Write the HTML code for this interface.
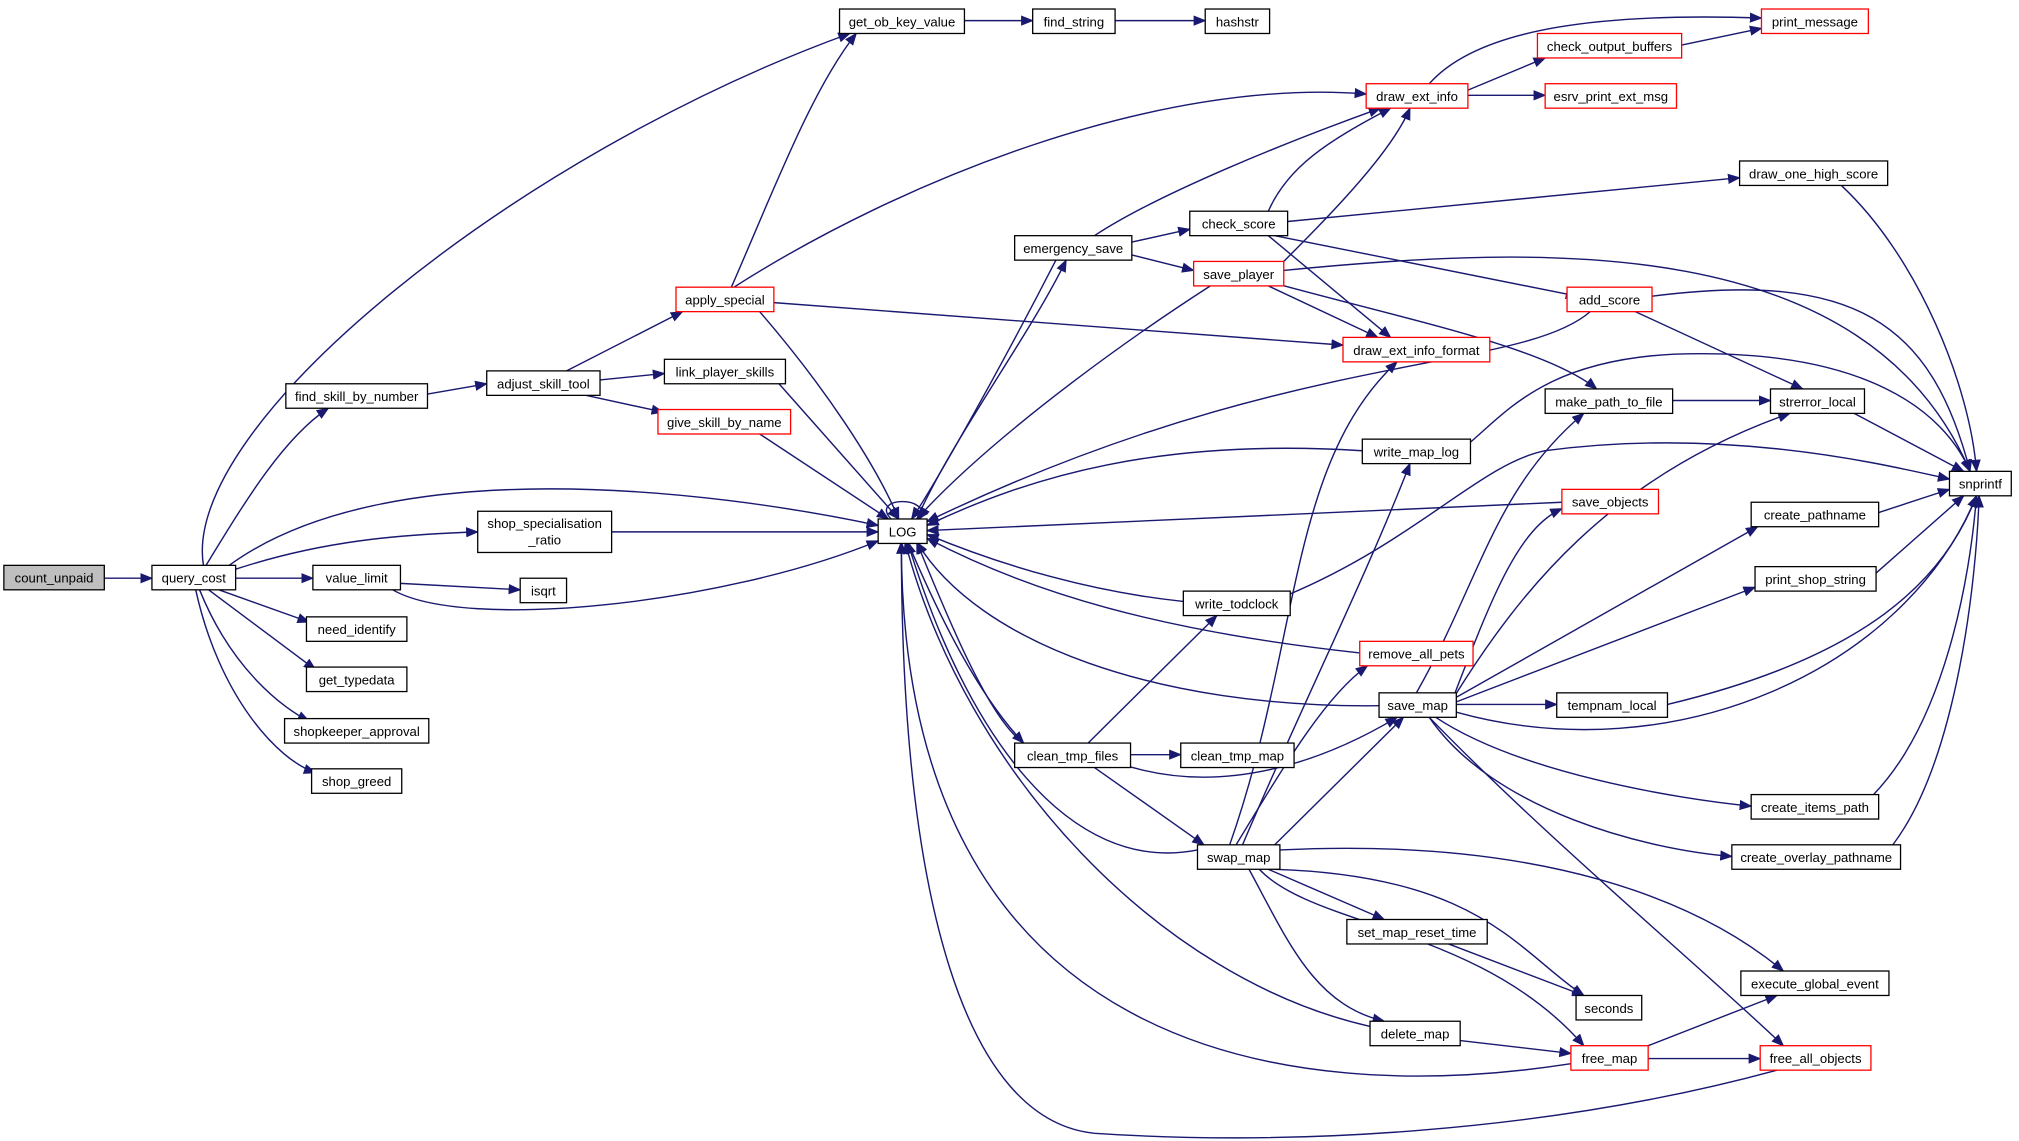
<!DOCTYPE html>
<html><head><meta charset="utf-8"><style>
html,body{margin:0;padding:0;background:#fff;}
svg{display:block;}
text{font-family:"Liberation Sans",sans-serif;font-size:10.2px;fill:#000;}
.e{fill:none;stroke:#191970;stroke-width:1.1;marker-end:url(#a);}
rect{fill:#fff;stroke:#000;stroke-width:1;}
rect.r{stroke:#ff0000;}
rect.g{fill:#bfbfbf;}
</style></head><body>
<svg width="2019" height="1141" viewBox="0 0 1568 886" preserveAspectRatio="none" xmlns="http://www.w3.org/2000/svg">
<defs><marker id="a" markerWidth="10" markerHeight="8" refX="9" refY="4" orient="auto" markerUnits="userSpaceOnUse"><path d="M0,0 L10,4 L0,8 z" fill="#191970"/></marker></defs>
<g>
<path class="e" d="M81,449 L118,449"/>
<path class="e" d="M158,439 C140,330 400,120 660,26"/>
<path class="e" d="M160,439 C190,390 220,340 255,317"/>
<path class="e" d="M178,439 C300,350 550,380 682,408"/>
<path class="e" d="M183,442 C250,420 310,415 371,413"/>
<path class="e" d="M183,449 L243,449"/>
<path class="e" d="M170,458 L240,483"/>
<path class="e" d="M162,458 L245,520"/>
<path class="e" d="M155,458 C180,520 220,550 240,560"/>
<path class="e" d="M152,458 C170,540 215,590 245,600"/>
<path class="e" d="M311,453 L404,458"/>
<path class="e" d="M305,458 C360,490 560,470 682,420"/>
<path class="e" d="M475,413 L682,413"/>
<path class="e" d="M332,306 L378,298"/>
<path class="e" d="M440,288 L530,242"/>
<path class="e" d="M466,295 L516,290"/>
<path class="e" d="M455,307 L515,320"/>
<path class="e" d="M568,223 C600,150 630,70 665,26"/>
<path class="e" d="M570,223 C700,140 900,60 1061,73"/>
<path class="e" d="M601,235 L1043,268"/>
<path class="e" d="M590,242 C640,300 680,360 698,403"/>
<path class="e" d="M605,298 L698,403"/>
<path class="e" d="M590,337 L690,403"/>
<path class="e" d="M749,16 L802,16"/>
<path class="e" d="M866,16 L936,16"/>
<path class="e" d="M1110,65 C1150,20 1250,10 1368,14"/>
<path class="e" d="M1140,70 L1200,45"/>
<path class="e" d="M1140,74 L1200,74"/>
<path class="e" d="M1306,35 L1368,22"/>
<path class="e" d="M820,202 C780,280 730,370 708,403"/>
<path class="e" d="M712,403 C740,340 800,260 828,202"/>
<path class="e" d="M850,183 C900,150 1000,110 1072,84"/>
<path class="e" d="M879,188 L924,178"/>
<path class="e" d="M879,198 L927,210"/>
<path class="e" d="M692,403 C675,385 725,385 714,403"/>
<path class="e" d="M985,164 C1000,130 1030,110 1080,84"/>
<path class="e" d="M1000,172 L1351,138"/>
<path class="e" d="M990,183 L1225,230"/>
<path class="e" d="M985,183 L1080,262"/>
<path class="e" d="M990,210 C1030,170 1080,120 1095,84"/>
<path class="e" d="M997,210 C1200,190 1450,180 1530,366"/>
<path class="e" d="M985,222 L1070,262"/>
<path class="e" d="M990,220 C1100,250 1200,270 1240,302"/>
<path class="e" d="M940,222 C850,280 760,350 712,403"/>
<path class="e" d="M1235,242 C1180,290 1000,270 720,405"/>
<path class="e" d="M1270,242 L1400,302"/>
<path class="e" d="M1283,230 C1440,210 1500,250 1530,366"/>
<path class="e" d="M1430,144 C1490,200 1530,300 1535,366"/>
<path class="e" d="M1299,311 L1375,311"/>
<path class="e" d="M1440,321 L1525,366"/>
<path class="e" d="M1100,538 C1150,450 1160,380 1230,321"/>
<path class="e" d="M1000,462 C1100,420 1150,360 1200,350 C1350,330 1480,365 1514,372"/>
<path class="e" d="M1058,350 C900,340 800,370 720,408"/>
<path class="e" d="M1140,345 C1170,320 1200,280 1300,275 C1450,270 1510,320 1530,366"/>
<path class="e" d="M1213,390 L720,412"/>
<path class="e" d="M1459,398 L1514,380"/>
<path class="e" d="M1457,445 L1525,385"/>
<path class="e" d="M919,467 C850,460 780,440 720,415"/>
<path class="e" d="M1056,507 C900,490 800,460 720,418"/>
<path class="e" d="M1071,548 C900,550 760,500 712,421"/>
<path class="e" d="M1131,547 L1209,547"/>
<path class="e" d="M1130,538 C1160,460 1180,410 1213,395"/>
<path class="e" d="M1130,540 C1180,460 1250,370 1390,321"/>
<path class="e" d="M1130,542 L1365,409"/>
<path class="e" d="M1131,545 L1363,456"/>
<path class="e" d="M1131,553 C1300,600 1480,520 1535,385"/>
<path class="e" d="M1115,557 C1180,600 1300,620 1360,626"/>
<path class="e" d="M1110,557 C1160,630 1280,660 1345,665"/>
<path class="e" d="M994,660 C1200,650 1320,700 1385,754"/>
<path class="e" d="M1110,557 C1200,650 1320,750 1385,812"/>
<path class="e" d="M1295,547 C1450,510 1510,450 1535,385"/>
<path class="e" d="M1455,617 C1510,560 1530,450 1535,385"/>
<path class="e" d="M1470,656 C1520,590 1535,450 1537,385"/>
<path class="e" d="M795,577 C770,560 740,490 712,421"/>
<path class="e" d="M705,421 C730,480 760,540 795,577"/>
<path class="e" d="M878,586 L917,586"/>
<path class="e" d="M845,577 L945,478"/>
<path class="e" d="M870,593 C950,620 1030,590 1085,557"/>
<path class="e" d="M850,596 L935,656"/>
<path class="e" d="M930,660 C830,680 750,570 705,421"/>
<path class="e" d="M990,656 L1090,557"/>
<path class="e" d="M960,656 C1000,590 1030,540 1062,517"/>
<path class="e" d="M965,656 C1010,550 1060,450 1095,360"/>
<path class="e" d="M955,656 C1010,500 1000,360 1085,281"/>
<path class="e" d="M985,675 L1075,714"/>
<path class="e" d="M990,675 C1150,680 1180,740 1230,773"/>
<path class="e" d="M970,675 C1000,730 1020,780 1075,793"/>
<path class="e" d="M978,675 C1020,720 1150,720 1230,812"/>
<path class="e" d="M1125,733 L1230,773"/>
<path class="e" d="M1064,797 C900,760 750,600 703,421"/>
<path class="e" d="M1134,808 L1220,818"/>
<path class="e" d="M1280,812 L1380,773"/>
<path class="e" d="M1280,822 L1367,822"/>
<path class="e" d="M1220,826 C1000,860 700,820 700,421"/>
<path class="e" d="M1380,831 C1200,880 1000,890 850,880 C750,870 700,700 700,421"/>
</g>
<g text-anchor="middle">
<rect class="g" x="3" y="439" width="78" height="19"/><text x="42" y="452.5">count_unpaid</text>
<rect x="118" y="439" width="65" height="19"/><text x="150.5" y="452.5">query_cost</text>
<rect x="222" y="298" width="110" height="19"/><text x="277" y="311.5">find_skill_by_number</text>
<rect x="378" y="288" width="88" height="19"/><text x="422" y="301.5">adjust_skill_tool</text>
<rect class="r" x="525" y="223" width="76" height="19"/><text x="563" y="236.5">apply_special</text>
<rect x="516" y="279" width="94" height="19"/><text x="563" y="292.5">link_player_skills</text>
<rect class="r" x="511" y="318" width="103" height="19"/><text x="562.5" y="331.5">give_skill_by_name</text>
<rect x="371" y="397" width="104" height="32"/><text x="423" y="410">shop_specialisation</text><text x="423" y="423">_ratio</text>
<rect x="243" y="439" width="68" height="19"/><text x="277" y="452.5">value_limit</text>
<rect x="404" y="449" width="36" height="19"/><text x="422" y="462.5">isqrt</text>
<rect x="238" y="479" width="78" height="19"/><text x="277" y="492.5">need_identify</text>
<rect x="238" y="518" width="78" height="19"/><text x="277" y="531.5">get_typedata</text>
<rect x="221" y="558" width="112" height="19"/><text x="277" y="571.5">shopkeeper_approval</text>
<rect x="242" y="597" width="70" height="19"/><text x="277" y="610.5">shop_greed</text>
<rect x="682" y="403" width="38" height="19"/><text x="701" y="416.5">LOG</text>
<rect x="652" y="7" width="97" height="19"/><text x="700.5" y="20.5">get_ob_key_value</text>
<rect x="802" y="7" width="64" height="19"/><text x="834" y="20.5">find_string</text>
<rect x="936" y="7" width="50" height="19"/><text x="961" y="20.5">hashstr</text>
<rect class="r" x="1061" y="65" width="79" height="19"/><text x="1100.5" y="78.5">draw_ext_info</text>
<rect class="r" x="1368" y="7" width="83" height="19"/><text x="1409.5" y="20.5">print_message</text>
<rect class="r" x="1194" y="26" width="112" height="19"/><text x="1250" y="39.5">check_output_buffers</text>
<rect class="r" x="1200" y="65" width="102" height="19"/><text x="1251" y="78.5">esrv_print_ext_msg</text>
<rect x="1351" y="125" width="115" height="19"/><text x="1408.5" y="138.5">draw_one_high_score</text>
<rect x="788" y="183" width="91" height="19"/><text x="833.5" y="196.5">emergency_save</text>
<rect x="924" y="164" width="76" height="19"/><text x="962" y="177.5">check_score</text>
<rect class="r" x="927" y="203" width="70" height="19"/><text x="962" y="216.5">save_player</text>
<rect class="r" x="1217" y="223" width="66" height="19"/><text x="1250" y="236.5">add_score</text>
<rect class="r" x="1043" y="262" width="114" height="19"/><text x="1100" y="275.5">draw_ext_info_format</text>
<rect x="1200" y="302" width="99" height="19"/><text x="1249.5" y="315.5">make_path_to_file</text>
<rect x="1375" y="302" width="73" height="19"/><text x="1411.5" y="315.5">strerror_local</text>
<rect x="1514" y="366" width="48" height="19"/><text x="1538" y="379.5">snprintf</text>
<rect x="1058" y="341" width="84" height="19"/><text x="1100" y="354.5">write_map_log</text>
<rect class="r" x="1213" y="380" width="75" height="19"/><text x="1250.5" y="393.5">save_objects</text>
<rect x="1360" y="390" width="99" height="19"/><text x="1409.5" y="403.5">create_pathname</text>
<rect x="1363" y="440" width="94" height="19"/><text x="1410" y="453.5">print_shop_string</text>
<rect x="919" y="459" width="83" height="19"/><text x="960.5" y="472.5">write_todclock</text>
<rect class="r" x="1056" y="498" width="88" height="19"/><text x="1100" y="511.5">remove_all_pets</text>
<rect x="1071" y="538" width="60" height="19"/><text x="1101" y="551.5">save_map</text>
<rect x="1209" y="538" width="86" height="19"/><text x="1252" y="551.5">tempnam_local</text>
<rect x="788" y="577" width="90" height="19"/><text x="833" y="590.5">clean_tmp_files</text>
<rect x="917" y="577" width="88" height="19"/><text x="961" y="590.5">clean_tmp_map</text>
<rect x="1360" y="617" width="99" height="19"/><text x="1409.5" y="630.5">create_items_path</text>
<rect x="930" y="656" width="64" height="19"/><text x="962" y="669.5">swap_map</text>
<rect x="1345" y="656" width="131" height="19"/><text x="1410.5" y="669.5">create_overlay_pathname</text>
<rect x="1046" y="714" width="109" height="19"/><text x="1100.5" y="727.5">set_map_reset_time</text>
<rect x="1352" y="754" width="115" height="19"/><text x="1409.5" y="767.5">execute_global_event</text>
<rect x="1224" y="773" width="51" height="19"/><text x="1249.5" y="786.5">seconds</text>
<rect x="1064" y="793" width="70" height="19"/><text x="1099" y="806.5">delete_map</text>
<rect class="r" x="1220" y="812" width="60" height="19"/><text x="1250" y="825.5">free_map</text>
<rect class="r" x="1367" y="812" width="86" height="19"/><text x="1410" y="825.5">free_all_objects</text>
</g>
</svg>
</body></html>
